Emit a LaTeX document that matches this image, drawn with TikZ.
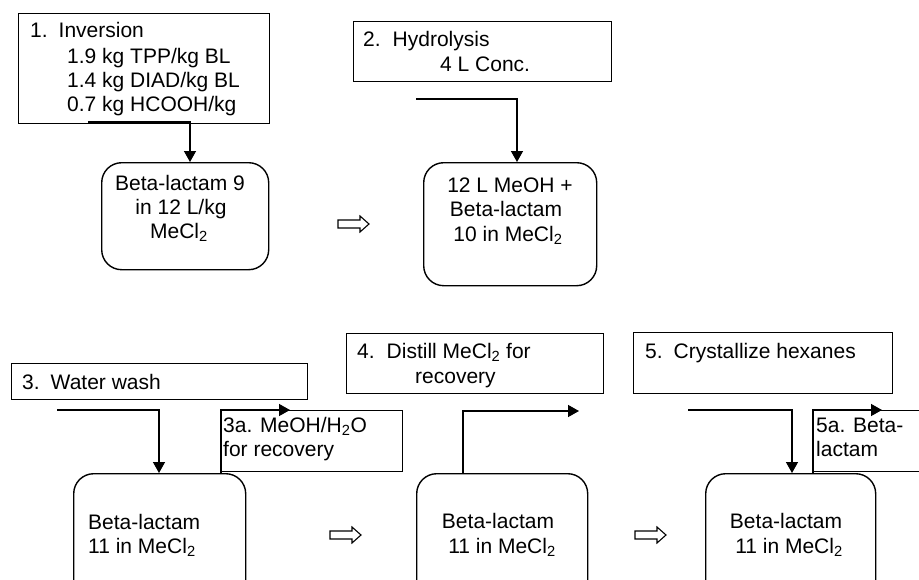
\documentclass[tikz,border=0pt]{standalone}
\usepackage{fontspec}
\setmainfont{Liberation Sans}
\usetikzlibrary{arrows.meta}
\newcommand\fs{\fontsize{21pt}{24.4pt}\selectfont}
\newcommand\mysub[1]{\textsubscript{#1}}
\newcommand\blockarrow[2]{\draw[blk,shift={(#1,#2)}] (0,-4) -- (22,-4) -- (22,-8) -- (31,0) -- (22,8) -- (22,4) -- (0,4) -- cycle;}
\begin{document}
\begin{tikzpicture}[x=1pt,y=-1pt,
  txt/.style={inner sep=0pt, font=\fs, anchor=base west},
  txtc/.style={inner sep=0pt, font=\fs, anchor=base},
  sq/.style={draw, line width=1.4pt, inner sep=0pt, anchor=north west},
  rbox/.style={draw, line width=1.4pt, rounded corners=20pt, inner sep=0pt, anchor=north west},
  conn/.style={line width=1.4pt, -{Triangle[length=11pt,width=12pt]}},
  blk/.style={draw, line width=1.1pt, fill=white, line join=miter}]
\clip (0,0) rectangle (919,579);
\fill[white] (0,0) rectangle (919,579);

% square boxes
\node[sq, minimum width=251, minimum height=110] (b1) at (18,13) {};
\node[sq, minimum width=258, minimum height=60] (b2) at (353,21) {};
\node[sq, minimum width=296, minimum height=36] (b3) at (11,363) {};
\node[sq, minimum width=181, minimum height=61] (b3a) at (221,410) {};
\node[sq, minimum width=257, minimum height=60] (b4) at (346,333) {};
\node[sq, minimum width=259, minimum height=61] (b5) at (633,332) {};
\node[sq, minimum width=130, minimum height=61] (b5a) at (813,410) {};

% rounded boxes
\node[rbox, minimum width=167, minimum height=107] (rb1) at (101,162) {};
\node[rbox, minimum width=173, minimum height=123] (rb2) at (423,162) {};
\node[rbox, minimum width=172, minimum height=130] (rb3) at (73,473) {};
\node[rbox, minimum width=171, minimum height=130] (rb4) at (416,473) {};
\node[rbox, minimum width=170, minimum height=130] (rb5) at (705,473) {};

% texts
\node[txt] (t1a) at (30,37) {1.\hspace{11pt}Inversion};
\node[txt] (t1b) at (67,63) {1.9 kg TPP/kg BL};
\node[txt] (t1c) at (67,87) {1.4 kg DIAD/kg BL};
\node[txt] (t1d) at (67,111) {0.7 kg HCOOH/kg};
\node[txt] (t2a) at (363,46) {2.\hspace{12pt}Hydrolysis};
\node[txt] (t2b) at (440,71) {4 L Conc.};
\node[txtc] (r1a) at (180,190) {Beta-lactam 9};
\node[txtc] (r1b) at (181,214) {in 12 L/kg};
\node[txtc] (r1c) at (179,238) {MeCl\mysub{2}};
\node[txtc] (r2a) at (510,192) {12 L MeOH +};
\node[txtc] (r2b) at (506,216) {Beta-lactam};
\node[txtc] (r2c) at (508,241) {10 in MeCl\mysub{2}};
\node[txt] (t3) at (22,389) {3.\hspace{11pt}Water wash};
\node[txt] (t3aa) at (223,432) {3a. MeOH/H\mysub{2}O};
\node[txt] (t3ab) at (223,456) {for recovery};
\node[txt] (r3a) at (88,529) {Beta-lactam};
\node[txt] (r3b) at (88,553) {11 in MeCl\mysub{2}};
\node[txt] (t4a) at (357,358) {4.\hspace{12pt}Distill MeCl\mysub{2} for};
\node[txt] (t4b) at (415,383) {recovery};
\node[txtc] (r4a) at (498,528) {Beta-lactam};
\node[txtc] (r4b) at (502,553) {11 in MeCl\mysub{2}};
\node[txt] (t5) at (645,358) {5.\hspace{11pt}Crystallize hexanes};
\node[txt] (t5aa) at (816,432) {5a. Beta-};
\node[txt] (t5ab) at (816,456) {lactam};
\node[txtc] (r5a) at (786,528) {Beta-lactam};
\node[txtc] (r5b) at (789,553) {11 in MeCl\mysub{2}};

% connector points
\coordinate (c1) at (88,122);   \coordinate (e1) at (190,162);
\coordinate (c2) at (416,99);   \coordinate (e2) at (517,162);
\coordinate (c3) at (57,410);   \coordinate (e3) at (159,473);
\coordinate (s3a) at (221,473); \coordinate (e3a) at (290,410);
\coordinate (s4) at (463,473);  \coordinate (e4) at (579,411);
\coordinate (c5) at (688,410);  \coordinate (e5) at (792,473);
\coordinate (s5a) at (813,473); \coordinate (e5a) at (882,410);

\draw[conn] (c1) -| (e1);
\draw[conn] (c2) -| (e2);
\draw[conn] (c3) -| (e3);
\draw[conn] (s3a) |- (e3a);
\draw[conn] (s4) |- (e4);
\draw[conn] (c5) -| (e5);
\draw[conn] (s5a) |- (e5a);

% block arrows
\blockarrow{338}{224}
\blockarrow{330}{535}
\blockarrow{635}{535}
\end{tikzpicture}
\end{document}
